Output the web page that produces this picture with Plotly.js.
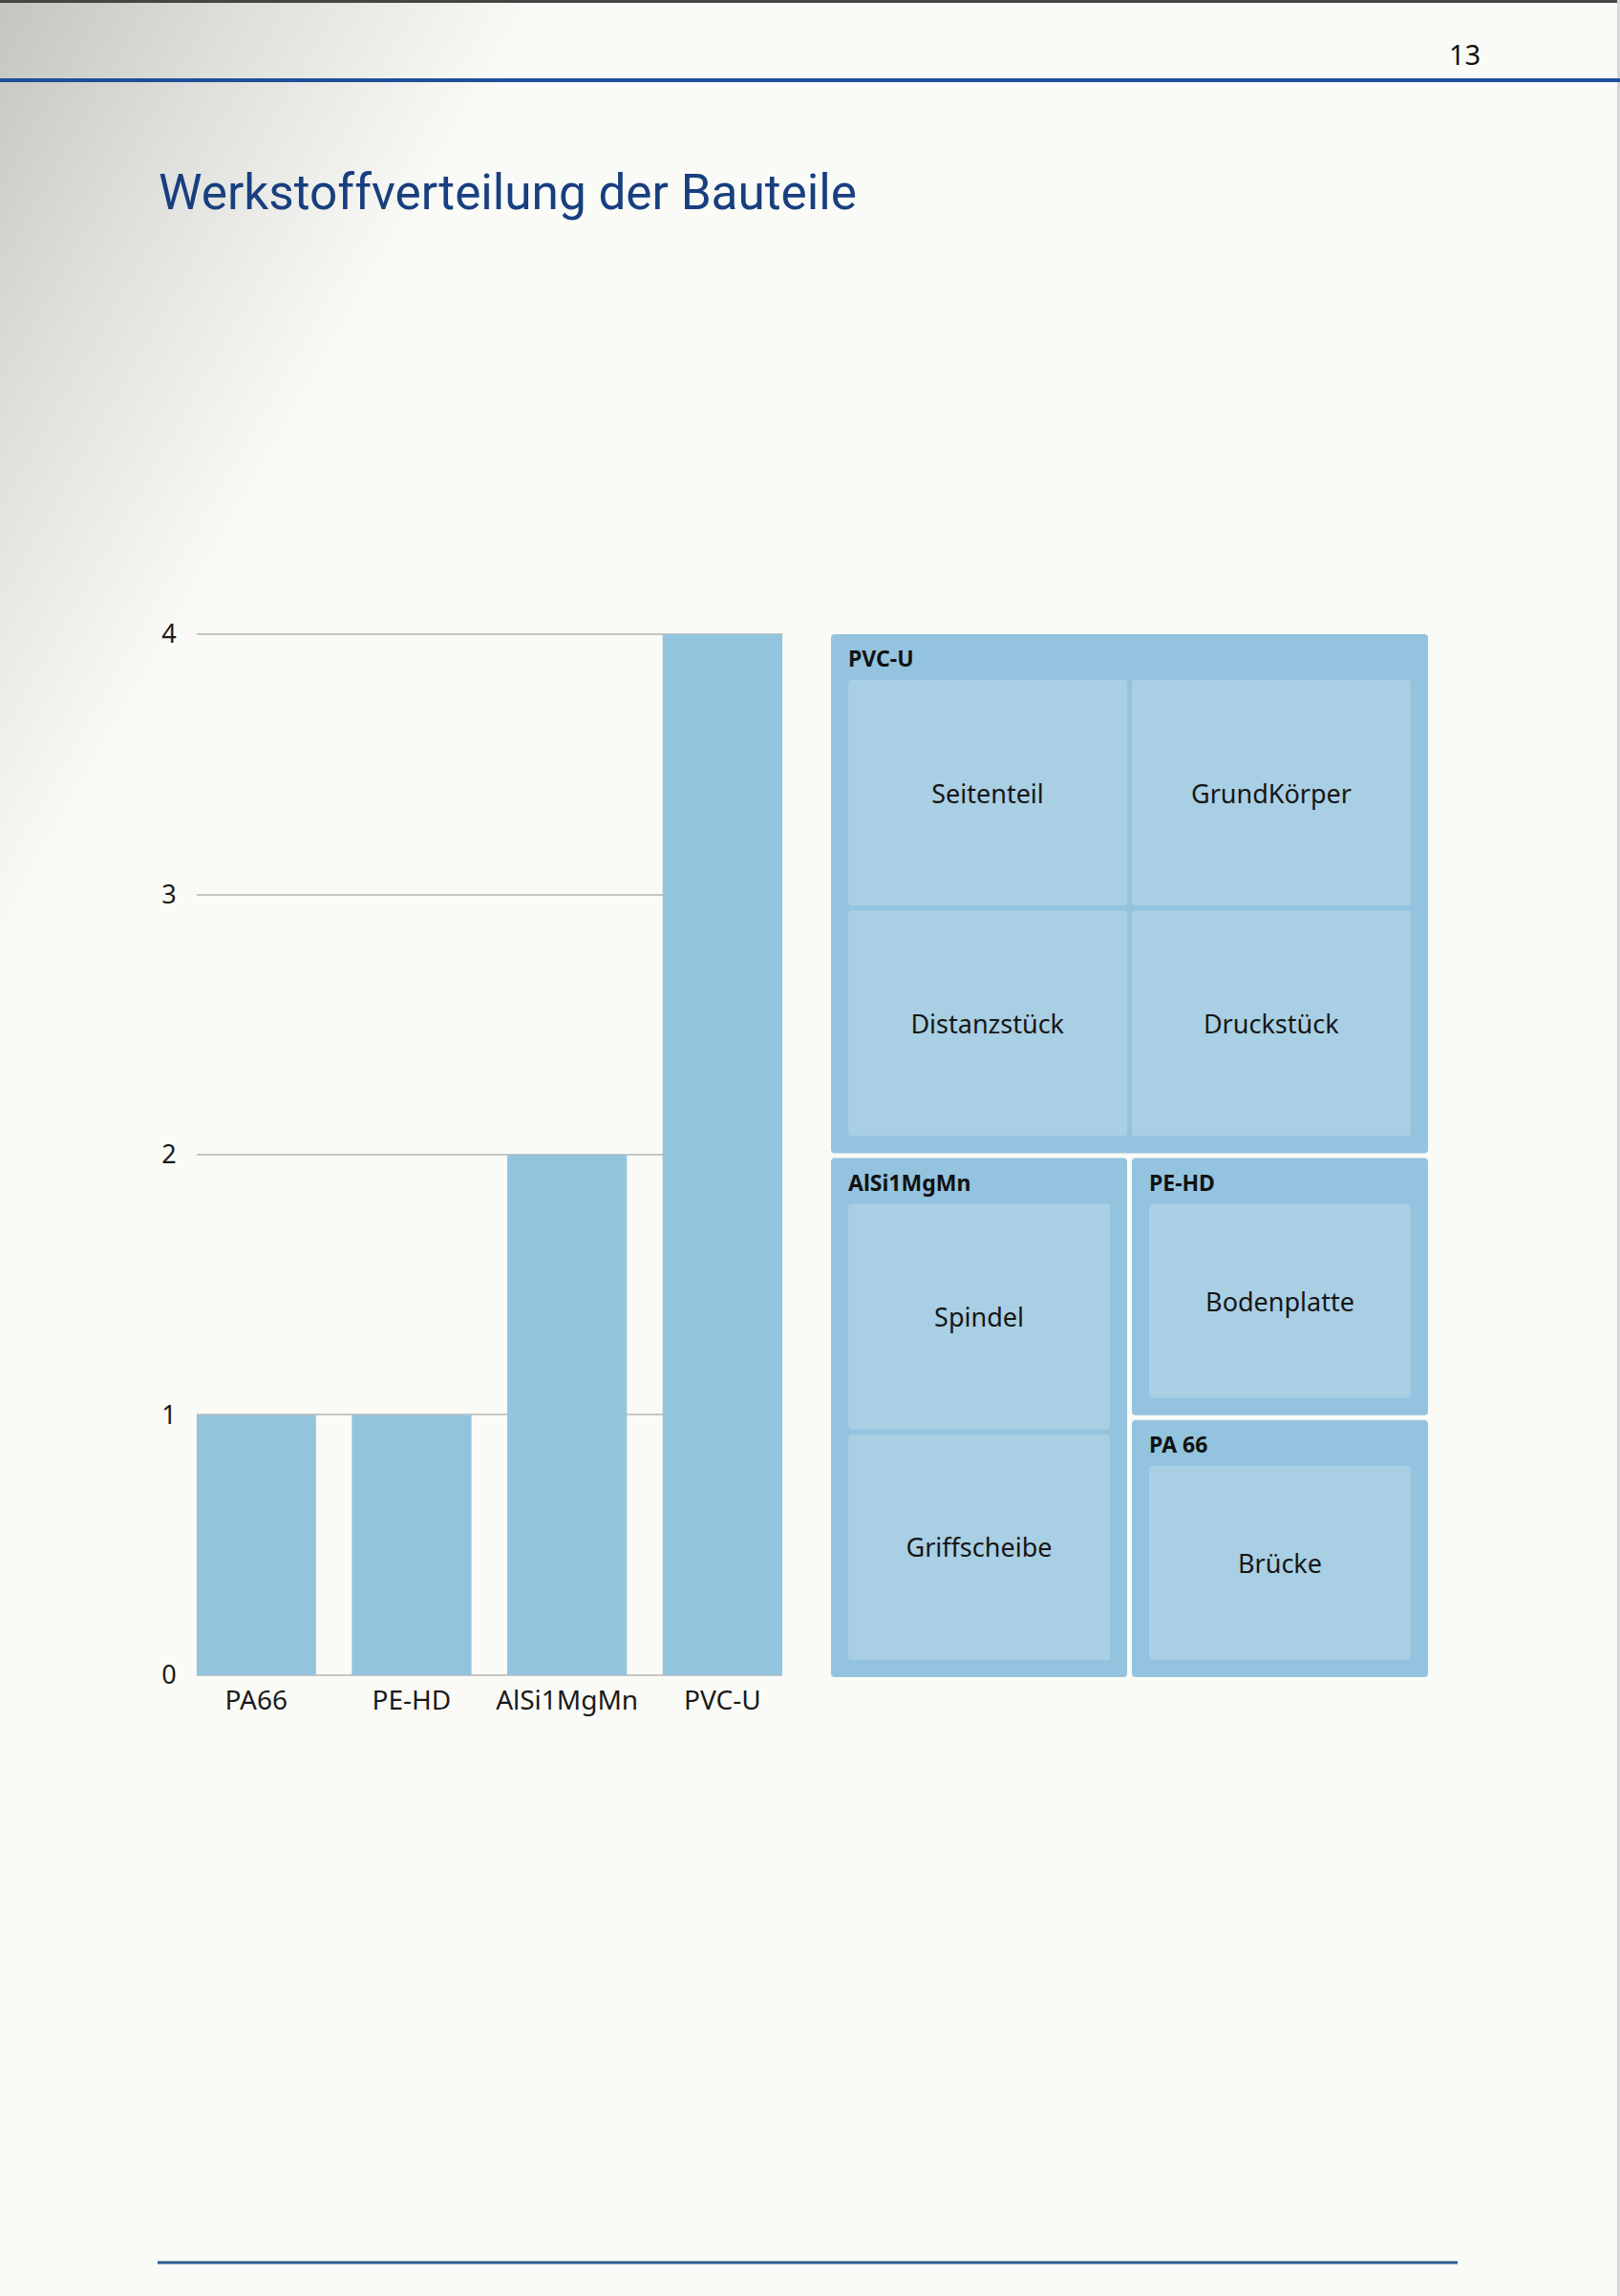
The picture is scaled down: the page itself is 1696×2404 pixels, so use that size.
<!DOCTYPE html>
<html>
<head>
<meta charset="utf-8">
<script src="https://cdn.plot.ly/plotly-3.0.1.min.js"></script>
<style>
  html, body { margin: 0; padding: 0; }
  body {
    width: 1696px; height: 2404px; overflow: hidden;
    background: linear-gradient(119.6deg, #c4c5c1 0px, #dfe0dc 230px, #fafbf7 500px, #fafbf7 100%);
  }
  #chart { width: 1696px; height: 2404px; }
</style>
</head>
<body>
<div id="chart"></div>
<script>
// ---- data ----
const pageTitle = 'Werkstoffverteilung der Bauteile';
const pageNumber = '13';

const materials = ['PA66', 'PE-HD', 'AlSi1MgMn', 'PVC-U'];
const partCounts = [1, 1, 2, 4];
const yTicks = [0, 1, 2, 3, 4];

const treeIds     = ['PVC-U', 'AlSi1MgMn', 'PE-HD', 'PA 66',
                     'Seitenteil', 'Distanzstück', 'GrundKörper', 'Druckstück',
                     'Spindel', 'Griffscheibe', 'Bodenplatte', 'Brücke'];
const treeParents = ['', '', '', '',
                     'PVC-U', 'PVC-U', 'PVC-U', 'PVC-U',
                     'AlSi1MgMn', 'AlSi1MgMn', 'PE-HD', 'PA 66'];
const treeValues  = [4, 2, 1, 1, 1, 1, 1, 1, 1, 1, 1, 1];

// ---- helpers (layout only) ----
const W = 1696, H = 2404;
const px = x => x / W;
const py = y => 1 - y / H;
const BLANK = '\u00a0';

const barColor = '#93c4de';
const parentColor = '#93c3de';
const leafColor = '#a9cfe4';
const PAD = { t: 48, l: 18, r: 18, b: 18 };

const isParent = treeIds.map(id => treeParents.indexOf(id) !== -1);

// the implied (hidden) root also receives the padding, so widen the domain by it
function tmBase(shiftDown) {
  return {
    type: 'treemap',
    ids: treeIds,
    parents: treeParents,
    values: treeValues,
    branchvalues: 'total',
    sort: false,
    domain: {
      x: [px(870 - PAD.l), px(1495 + PAD.r)],
      y: [py(1756 + PAD.b + shiftDown), py(664 - PAD.t + shiftDown)]
    },
    tiling: { packing: 'squarify', squarifyratio: 1, pad: 5 },
    pathbar: { visible: false },
    textinfo: 'label',
    hoverinfo: 'skip'
  };
}

// coloured tiles + centred part names
const treeLeaves = Object.assign(tmBase(0), {
  labels: treeIds.map((id, i) => isParent[i] ? BLANK : id),
  textposition: 'middle center',
  textfont: { family: 'Noto Sans, sans-serif', size: 27, color: '#161616' },
  marker: {
    colors: treeIds.map((id, i) => isParent[i] ? parentColor : leafColor),
    line: { width: 0 },
    pad: PAD,
    cornerradius: 4
  }
});

// transparent copy of the same hierarchy that only carries the bold group headers
const treeHeaders = Object.assign(tmBase(6), {
  labels: treeIds.map((id, i) => isParent[i] ? id : BLANK),
  textposition: 'top left',
  textfont: { family: 'Noto Sans, sans-serif', size: 23, weight: 'bold', color: '#111111' },
  marker: {
    colors: treeIds.map(() => 'rgba(0,0,0,0)'),
    line: { width: 0 },
    pad: PAD,
    cornerradius: 4
  }
});

const bars = {
  type: 'bar',
  x: materials,
  y: partCounts,
  marker: { color: barColor, line: { width: 0 } },
  hoverinfo: 'skip',
  xaxis: 'x', yaxis: 'y'
};

const layout = {
  width: W, height: H,
  margin: { l: 0, r: 0, t: 0, b: 0 },
  paper_bgcolor: 'rgba(0,0,0,0)',
  plot_bgcolor: 'rgba(0,0,0,0)',
  showlegend: false,
  bargap: 0.23,
  title: {
    text: pageTitle,
    x: px(166), xanchor: 'left', xref: 'paper',
    y: py(201), yanchor: 'middle', yref: 'paper',
    font: { family: 'Roboto, sans-serif', size: 51.3, color: '#183f7f' }
  },
  xaxis: {
    domain: [px(205.6), px(819)],
    range: [-0.385, 3.385],
    type: 'category',
    showgrid: false, zeroline: false, showline: false,
    ticks: '',
    ticklabelstandoff: 4,
    tickfont: { family: 'Noto Sans, sans-serif', size: 28, color: '#1a1a1a' }
  },
  yaxis: {
    domain: [py(1756.7), py(661.3)],
    range: [-0.01, 4.01],
    tickvals: yTicks,
    showgrid: true, gridcolor: '#c6c6c4', gridwidth: 2,
    zeroline: false, showline: false,
    ticks: '',
    ticklabelstandoff: 20,
    tickfont: { family: 'Noto Sans, sans-serif', size: 27, color: '#1a1a1a' }
  },
  annotations: [{
    text: pageNumber, showarrow: false,
    xref: 'paper', yref: 'paper', x: px(1533), y: py(57),
    xanchor: 'center', yanchor: 'middle',
    font: { family: 'Noto Sans, sans-serif', size: 29, color: '#111111' }
  }],
  shapes: [
    { type: 'rect', xref: 'paper', yref: 'paper', x0: 0, x1: 1, y0: py(3), y1: 1,
      fillcolor: '#454545', line: { width: 0 }, layer: 'below' },
    { type: 'rect', xref: 'paper', yref: 'paper', x0: px(1693), x1: 1, y0: 0, y1: 1,
      fillcolor: '#d6d7d4', line: { width: 0 }, layer: 'below' },
    { type: 'line', xref: 'paper', yref: 'paper', x0: 0, x1: 1, y0: py(84), y1: py(84),
      line: { color: '#1d4f9c', width: 4 } },
    { type: 'line', xref: 'paper', yref: 'paper', x0: px(165), x1: px(1526), y0: py(2369), y1: py(2369),
      line: { color: '#2b5b94', width: 3 } }
  ]
};

Plotly.newPlot('chart', [bars, treeLeaves, treeHeaders], layout, { staticPlot: true, displayModeBar: false });
</script>
</body>
</html>
